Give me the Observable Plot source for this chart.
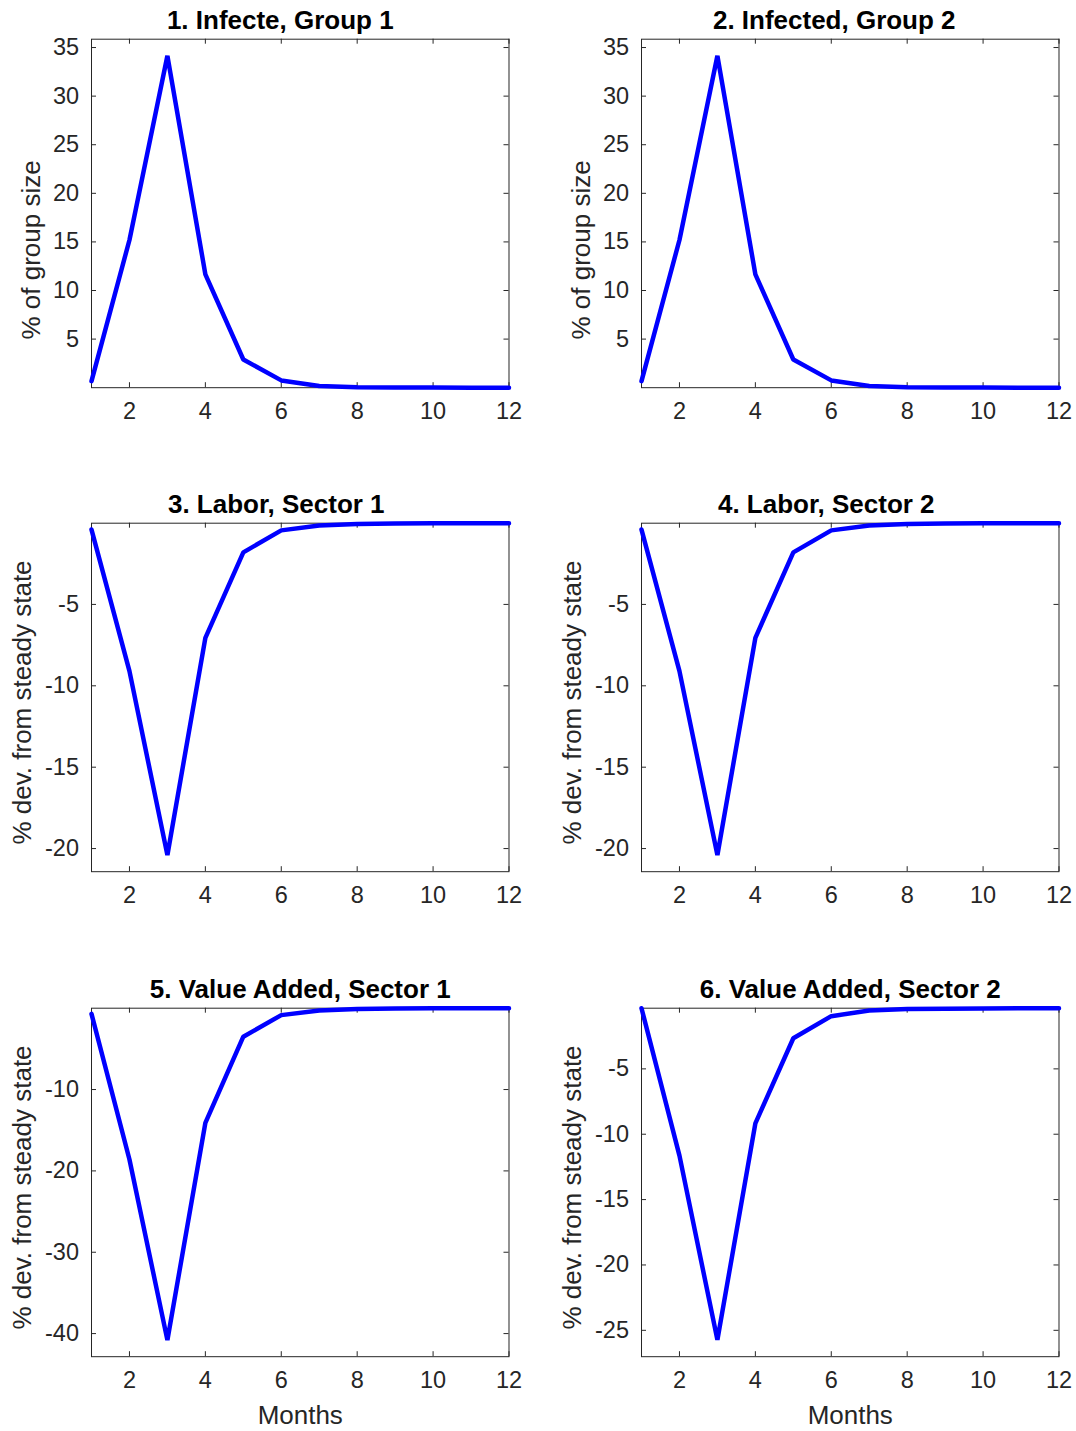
<!DOCTYPE html>
<html><head><meta charset="utf-8">
<script src="https://cdn.jsdelivr.net/npm/d3@7"></script>
<script src="https://cdn.jsdelivr.net/npm/@observablehq/plot@0.6"></script>
<style>
html,body{margin:0;padding:0;background:#fff;}
#fig{position:relative;width:1076px;height:1431px;overflow:hidden;background:#fff;}
#fig > svg{position:absolute;}
</style></head><body><div id="fig"></div>
<script>
const months = [1, 2, 3, 4, 5, 6, 7, 8, 9, 10, 11, 12];
const infectedGroup1 = [0.67, 15.2, 34.15, 11.66, 2.9, 0.75, 0.17, 0.05, 0.02, 0.01, 0.0, 0.0];
const infectedGroup2 = [0.67, 15.2, 34.15, 11.66, 2.9, 0.75, 0.17, 0.05, 0.02, 0.01, 0.0, 0.0];
const laborSector1 = [-0.4, -9.1, -20.4, -7.05, -1.8, -0.45, -0.15, -0.06, -0.03, -0.02, -0.01, -0.01];
const laborSector2 = [-0.4, -9.1, -20.4, -7.05, -1.8, -0.45, -0.15, -0.06, -0.03, -0.02, -0.01, -0.01];
const valueAddedSector1 = [-0.7, -18.6, -40.8, -14.1, -3.5, -0.85, -0.27, -0.09, -0.03, -0.01, 0, 0];
const valueAddedSector2 = [-0.36, -11.64, -25.73, -9.17, -2.66, -0.97, -0.54, -0.43, -0.40, -0.38, -0.37, -0.37];

const xTicks = [2, 4, 6, 8, 10, 12];
const yTicksInfected = [5, 10, 15, 20, 25, 30, 35];
const yTicksLabor = [-20, -15, -10, -5];
const yTicksVA1 = [-40, -30, -20, -10];
const yTicksVA2 = [-25, -20, -15, -10, -5];

const titles = ["1. Infecte, Group 1", "2. Infected, Group 2", "3. Labor, Sector 1", "4. Labor, Sector 2", "5. Value Added, Sector 1", "6. Value Added, Sector 2"];
const yLabels = ["% of group size", "% of group size", "% dev. from steady state", "% dev. from steady state", "% dev. from steady state", "% dev. from steady state"];
const xLabel = "Months";

const series = [infectedGroup1, infectedGroup2, laborSector1, laborSector2, valueAddedSector1, valueAddedSector2];
const yTickSets = [yTicksInfected, yTicksInfected, yTicksLabor, yTicksLabor, yTicksVA1, yTicksVA2];

// layout
const FONT = "'Liberation Sans', Arial, Helvetica, sans-serif";
const AX = "#262626";
const svgW = 538, plotH = 348.5, mTop = 38.7, mBottom = 95;
const rowTops = [0, 483.6, 968.8];
const colLefts = [0, 538];
const colMargins = [{l: 91, r: 29.5}, {l: 103, r: 17.5}];
const padLen = 24; // MATLAB char-array padding

const fig = document.getElementById("fig");
const fmt = d => String(d);

series.forEach((vals, i) => {
  const row = Math.floor(i / 2), col = i % 2;
  const m = colMargins[col];
  const plotW = svgW - m.l - m.r;
  const data = months.map((mo, k) => ({month: mo, value: vals[k]}));
  const [lo, hi] = d3.extent(vals);
  const yDomain = hi > 0 ? [lo, hi * 1.05] : [lo * 1.05, hi];
  const yT = yTickSets[i];
  const maxTickLen = d3.max(yT, t => String(t).length);
  const yLabelOffset = maxTickLen >= 3 ? 60.8 : 51.6;
  const titlePad = padLen - titles[i].length;
  const labelPad = padLen - yLabels[i].length;

  const marks = [
    Plot.ruleX(xTicks, {x: d => d, insetTop: plotH - 5, stroke: AX, strokeWidth: 1}),
    Plot.ruleX(xTicks, {x: d => d, insetBottom: plotH - 5, stroke: AX, strokeWidth: 1}),
    Plot.ruleY(yT, {y: d => d, insetRight: plotW - 5, stroke: AX, strokeWidth: 1}),
    Plot.ruleY(yT, {y: d => d, insetLeft: plotW - 5, stroke: AX, strokeWidth: 1}),
    Plot.frame({stroke: AX, strokeWidth: 1}),
    Plot.axisX(xTicks, {tickSize: 0, tickPadding: 15, fontSize: 23.5, fill: AX, label: null, tickFormat: fmt}),
    Plot.axisY(yT, {tickSize: 0, tickPadding: 12.5, fontSize: 23.5, fill: AX, label: null, tickFormat: fmt}),
    Plot.line(data, {x: "month", y: "value", stroke: "#0000ff", strokeWidth: 4.5, strokeLinejoin: "miter"}),
    Plot.text([titles[i]], {text: d => d, frameAnchor: "top", textAnchor: "middle", lineAnchor: "bottom", dy: -10.5, dx: -titlePad * 4, fontSize: 26, fontWeight: "bold", fill: "#000"}),
    Plot.text([yLabels[i]], {text: d => d, frameAnchor: "left", textAnchor: "middle", lineAnchor: "bottom", rotate: -90, dx: -yLabelOffset, dy: 5 + labelPad * 3.5, fontSize: 26, fill: AX})
  ];
  if (row === 2) {
    marks.push(Plot.text([xLabel], {text: d => d, frameAnchor: "bottom", textAnchor: "middle", lineAnchor: "bottom", dy: 67.6, fontSize: 26, fill: AX}));
  }

  const chart = Plot.plot({
    width: svgW,
    height: mTop + plotH + mBottom,
    marginTop: mTop,
    marginBottom: mBottom,
    marginLeft: m.l,
    marginRight: m.r,
    x: {domain: [1, 12]},
    y: {domain: yDomain},
    style: {fontFamily: FONT, fontSize: "23.5px", color: AX, background: "transparent", overflow: "visible"},
    marks
  });
  chart.style.left = colLefts[col] + "px";
  chart.style.top = rowTops[row] + "px";
  fig.appendChild(chart);
});
</script></body></html>
